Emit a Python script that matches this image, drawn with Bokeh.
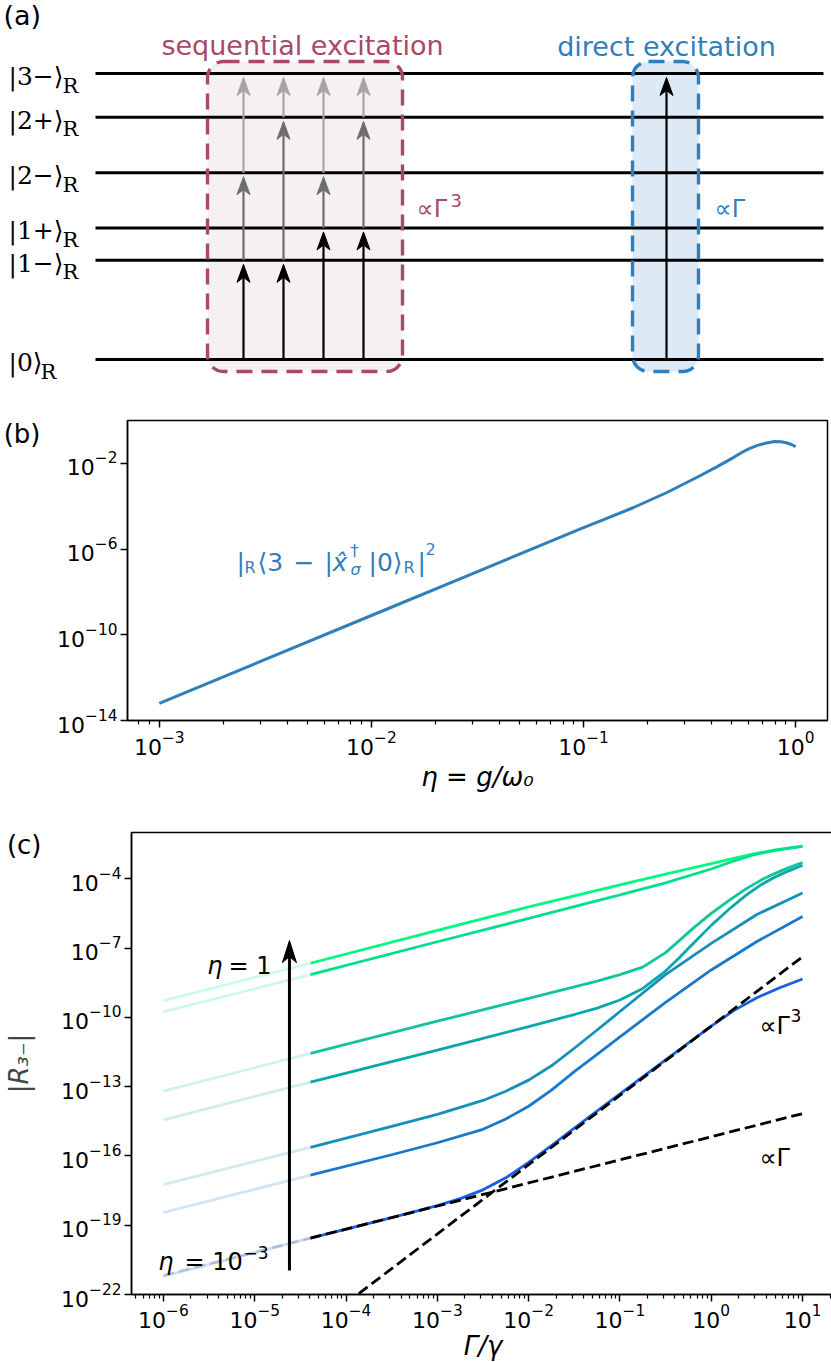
from bokeh.plotting import figure
from bokeh.layouts import column
from bokeh.models import Range1d, FixedTicker, LinearAxis, CustomJSTickFormatter
from bokeh.embed import file_html
from bokeh.resources import INLINE
from bokeh.core.properties import value

FONT = "DejaVu Sans"
SERIF = "DejaVu Serif"

# ---------------- (a) level scheme data ----------------
level_names = ["|0⟩", "|1−⟩", "|1+⟩", "|2−⟩", "|2+⟩", "|3−⟩"]
level_energy = [0.0, 1.04, 1.38, 1.96, 2.54, 3.00]
seq_paths = [[0, 1, 3, 5], [0, 1, 4, 5], [0, 2, 3, 5], [0, 2, 4, 5]]
direct_path = [0, 5]
seq_title = "sequential excitation"
dir_title = "direct excitation"

# ---------------- (b) matrix element vs eta ----------------
b_log_eta = [-3.0, -2.5, -2.0, -1.5, -1.0, -0.92, -0.764, -0.607, -0.451, -0.37, -0.294,
             -0.25, -0.216, -0.18, -0.138, -0.099, -0.07, -0.044, -0.02, 0.0]
b_log_me = [-13.2, -11.15, -9.1, -7.05, -5.0, -4.68, -4.06, -3.36, -2.58, -2.15, -1.73,
            -1.47, -1.30, -1.16, -1.05, -0.98, -0.99, -1.04, -1.12, -1.22]

# ---------------- (c) |R_3-| vs Gamma/gamma ----------------
eta_values = [1.0, 0.5, 0.1, 0.05, 0.01, 0.005, 0.001]
c_log_gamma = [
    [-6.0, -4.39, -3.0, -2.0, -1.0, -0.5, 0.0, 0.2, 0.45, 0.7, 1.0],
    [-6.0, -4.39, -3.0, -2.0, -1.0, -0.5, 0.0, 0.2, 0.45, 0.7, 1.0],
    [-6.0, -4.39, -3.0, -2.0, -1.5, -1.25, -1.0, -0.75, -0.5, -0.35, -0.2, 0.0, 0.2, 0.38,
     0.55, 0.7, 0.85, 1.0],
    [-6.0, -4.39, -3.0, -2.5, -2.0, -1.5, -1.25, -1.0, -0.75, -0.5, -0.35, -0.2, 0.0, 0.2, 0.38,
     0.55, 0.7, 0.85, 1.0],
    [-6.0, -4.39, -3.5, -3.0, -2.5, -2.25, -2.0, -1.75, -1.5, -1.25, -1.0, -0.5, 0.0, 0.5, 1.0],
    [-6.0, -4.39, -3.5, -3.0, -2.5, -2.25, -2.0, -1.75, -1.5, -1.25, -1.0, -0.5, 0.0, 0.5, 1.0],
    [-6.0, -4.39, -3.5, -3.0, -2.75, -2.5, -2.25, -2.0, -1.75, -1.5, -1.0, -0.5, 0.0, 0.25, 0.5,
     0.75, 1.0],
]
c_log_R = [
    [-9.28, -7.66, -6.24, -5.22, -4.27, -3.80, -3.35, -3.16, -2.94, -2.75, -2.59],
    [-9.76, -8.15, -6.73, -5.72, -4.70, -4.18, -3.58, -3.30, -2.98, -2.77, -2.60],
    [-13.20, -11.56, -10.17, -9.18, -8.68, -8.43, -8.15, -7.83, -7.20, -6.68, -6.15, -5.50,
     -4.93, -4.44, -4.05, -3.77, -3.52, -3.30],
    [-14.44, -12.81, -11.42, -10.91, -10.40, -9.88, -9.60, -9.25, -8.75, -8.00, -7.42, -6.82,
     -6.02, -5.30, -4.72, -4.25, -3.93, -3.66, -3.42],
    [-17.24, -15.63, -14.72, -14.20, -13.60, -13.20, -12.72, -12.10, -11.34, -10.55, -9.75,
     -8.15, -6.80, -5.55, -4.62],
    [-18.45, -16.83, -15.95, -15.43, -14.85, -14.40, -13.85, -13.15, -12.35, -11.60, -10.85,
     -9.35, -7.95, -6.72, -5.64],
    [-21.21, -19.56, -18.67, -18.15, -17.85, -17.47, -16.95, -16.28, -15.55, -14.80, -13.32,
     -11.84, -10.38, -9.70, -9.15, -8.72, -8.34],
]
c_colors = ["#00fa80", "#00e08a", "#10c49c", "#0aa8aa", "#1590bb", "#1a78cc", "#1560e0"]
fade_end_log_gamma = -4.39
lin_log_gamma = [-6.0, -4.39, 1.0]
lin_log_R = [-21.17, -19.56, -14.17]
cub_log_gamma = [-4.0, 1.0]
cub_log_R = [-22.38, -7.38]

SEQ_COLOR = "#a8486c"
DIR_COLOR = "#2f7fbd"

# =============== panel (a) ===============
pa = figure(width=829, height=388, x_range=Range1d(0, 829), y_range=Range1d(388, 0),
            x_axis_type=None, y_axis_type=None, min_border=0,
            output_backend="svg", toolbar_location=None)
pa.outline_line_color = None
pa.grid.visible = False

Y0, PX_PER_E = 359.0, 95.33


def ey(e):
    return Y0 - e * PX_PER_E


BOX_SEQ = (207, 402)
BOX_DIR = (632, 698)
BOX_TB = (61, 371)
for (l, r), fc in ((BOX_SEQ, "#f5f1f3"), (BOX_DIR, "#dde9f4")):
    pa.quad(left=[l], right=[r], top=[BOX_TB[0]], bottom=[BOX_TB[1]], fill_color=fc,
            line_color=None, border_radius=16)

ly = [ey(e) for e in level_energy]
pa.segment(x0=[95] * len(ly), y0=ly, x1=[823] * len(ly), y1=ly, line_color="black", line_width=3)

for (l, r), lc in ((BOX_SEQ, SEQ_COLOR), (BOX_DIR, DIR_COLOR)):
    pa.quad(left=[l], right=[r], top=[BOX_TB[0]], bottom=[BOX_TB[1]], fill_color=None,
            line_color=lc, line_width=3.4, line_dash="16 9", border_radius=16)

seg_colors = ["black", "#6d6d6d", "#a5a5a5"]


def draw_arrow(x, y_from, y_tip, color, width=2.2):
    head_len, half_w, notch = 18, 6.5, 13
    pa.segment(x0=[x], y0=[y_from], x1=[x], y1=[y_tip + notch], line_color=color, line_width=width)
    pa.patch([x, x - half_w, x, x + half_w],
             [y_tip, y_tip + head_len, y_tip + notch, y_tip + head_len],
             fill_color=color, line_color=color, line_width=1)


seq_x = [243, 283, 323, 363]
for x, path in zip(seq_x, seq_paths):
    for j, (a, b) in enumerate(zip(path[:-1], path[1:])):
        draw_arrow(x, ey(level_energy[a]), ey(level_energy[b]) + 4, seg_colors[j])
draw_arrow(666, ey(level_energy[direct_path[0]]), ey(level_energy[direct_path[1]]) + 4, "black")

for name, yv in zip(level_names, ly):
    pa.text(x=[8], y=[yv + 3], text=[name], text_font=value(SERIF), text_font_size="25px",
            text_align="left", text_baseline="alphabetic", text_color="black")
    rx = 40 + (22 if len(name) == 4 else 0)
    pa.text(x=[rx], y=[yv + 12], text=["R"], text_font=value(SERIF), text_font_size="21px",
            text_align="left", text_baseline="alphabetic", text_color="black")

pa.text(x=[3], y=[15], text=["(a)"], text_font=value(FONT), text_font_size="27px",
        text_align="left", text_baseline="middle")
pa.text(x=[302], y=[45], text=[seq_title], text_font=value(FONT), text_font_size="27px",
        text_align="center", text_baseline="alphabetic", text_color=SEQ_COLOR)
pa.text(x=[666], y=[46], text=[dir_title], text_font=value(FONT), text_font_size="27px",
        text_align="center", text_baseline="alphabetic", text_color=DIR_COLOR)
pa.text(x=[416], y=[208], text=["∝Γ"], text_font=value(FONT), text_font_size="24px",
        text_align="left", text_baseline="alphabetic", text_color=SEQ_COLOR)
pa.text(x=[450], y=[200], text=["3"], text_font=value(FONT), text_font_size="18px",
        text_align="left", text_baseline="alphabetic", text_color=SEQ_COLOR)
pa.text(x=[714], y=[208], text=["∝Γ"], text_font=value(FONT), text_font_size="24px",
        text_align="left", text_baseline="alphabetic", text_color=DIR_COLOR)


def minor_list(lo, hi):
    return [m * 10.0 ** k for k in range(lo, hi + 1) for m in range(2, 10)]


def style(p):
    for ax in (p.xaxis[0], p.yaxis[0]):
        ax.axis_line_width = 1.5
        ax.major_tick_out = 7
        ax.major_tick_in = 0
        ax.major_tick_line_width = 1.5
        ax.minor_tick_out = 4
        ax.minor_tick_in = 0
        ax.minor_tick_line_width = 1.2
        ax.major_label_text_font = FONT
        ax.major_label_text_font_size = "22px"
        ax.major_label_text_color = "black"
        ax.major_label_standoff = 3
        ax.axis_label_text_font = FONT
        ax.axis_label_text_font_size = "26px"
        ax.axis_label_text_color = "black"
    p.grid.visible = False
    p.outline_line_color = "black"
    p.outline_line_width = 1.5
    p.outline_line_alpha = 1.0


def tag_axis(label, y, standoff):
    return LinearAxis(ticker=FixedTicker(ticks=[y], minor_ticks=[]),
                      formatter=CustomJSTickFormatter(code=f"return '{label}';"),
                      axis_line_color=None, major_tick_line_color=None, minor_tick_line_color=None,
                      major_tick_out=0, major_tick_in=0, minor_tick_out=0,
                      major_label_text_font=FONT, major_label_text_font_size="26px",
                      major_label_text_color="black", major_label_standoff=standoff)


# =============== panel (b) ===============
pb = figure(x_axis_type="log", y_axis_type="log",
            x_range=Range1d(10 ** -3.15, 10 ** 0.15), y_range=Range1d(1e-14, 1.0),
            frame_width=700, frame_height=300, min_border_left=126, min_border_right=3,
            min_border_top=32, min_border_bottom=80,
            output_backend="svg", toolbar_location=None)
style(pb)
pb.xaxis[0].ticker = FixedTicker(ticks=[1e-3, 1e-2, 1e-1, 1.0], minor_ticks=minor_list(-4, 0))
pb.yaxis[0].ticker = FixedTicker(ticks=[1e-14, 1e-10, 1e-6, 1e-2], minor_ticks=[])
pb.xaxis[0].axis_label = "η = g/ω₀"
pb.xaxis[0].axis_label_text_font_style = "italic"
pb.xaxis[0].axis_label_standoff = 4
pb.line([10 ** v for v in b_log_eta], [10 ** v for v in b_log_me], line_color=DIR_COLOR,
        line_width=3)
pb.add_layout(tag_axis("(b)", 10 ** -0.62, 14), "left")

BX, BY = -2.636, -6.613
PXX, PXY = 700 / 3.3, 300 / 14.0
pieces = [
    ("|", 25, 0, 0, "normal"), ("R", 16, 8, 5, "normal"), ("⟨3", 25, 21, 0, "normal"),
    ("−", 25, 57, 0, "normal"), ("|", 25, 88, 0, "normal"), ("x\u0302", 25, 96, 0, "italic"),
    ("†", 16, 114, -12, "normal"), ("σ", 16, 114, 7, "italic"), ("|0⟩", 25, 132, 0, "normal"),
    ("R", 16, 167, 5, "normal"), ("|", 25, 181, 0, "normal"), ("2", 16, 189, -13, "normal"),
]
for txt, size, dx, dy, st in pieces:
    pb.text(x=[10 ** (BX + dx / PXX)], y=[10 ** (BY - dy / PXY)], text=[txt],
            text_font=value(FONT), text_font_size=f"{size}px", text_font_style=st,
            text_color=DIR_COLOR, text_align="left", text_baseline="alphabetic")

# =============== panel (c) ===============
pc = figure(x_axis_type="log", y_axis_type="log",
            x_range=Range1d(10 ** -6.35, 10 ** 1.35), y_range=Range1d(1e-22, 1e-2),
            frame_width=703, frame_height=462, min_border_left=125, min_border_right=1,
            min_border_top=32, min_border_bottom=66,
            output_backend="svg", toolbar_location=None)
style(pc)
pc.xaxis[0].ticker = FixedTicker(ticks=[10.0 ** k for k in range(-6, 2)], minor_ticks=minor_list(-7, 1))
pc.yaxis[0].ticker = FixedTicker(ticks=[10.0 ** k for k in range(-22, -3, 3)], minor_ticks=[])
pc.xaxis[0].axis_label = "Γ/γ"
pc.xaxis[0].axis_label_standoff = 0
pc.xaxis[0].major_label_standoff = 2
tag_c = tag_axis("(c)", 10 ** -2.56, 17)
tag_c.axis_label = "|R₃₋|"
tag_c.axis_label_text_font = FONT
tag_c.axis_label_text_font_size = "26px"
tag_c.axis_label_text_font_style = "italic"
tag_c.axis_label_standoff = -30
pc.add_layout(tag_c, "left")

for lg, lr, col in zip(c_log_gamma, c_log_R, c_colors):
    xs = [10 ** v for v in lg]
    ys = [10 ** v for v in lr]
    k = lg.index(fade_end_log_gamma)
    pc.line(xs[:k + 1], ys[:k + 1], line_color=col, line_width=2.8, line_alpha=0.2)
    pc.line(xs[k:], ys[k:], line_color=col, line_width=2.8)

kl = lin_log_gamma.index(fade_end_log_gamma)
lx = [10 ** v for v in lin_log_gamma]
lyv = [10 ** v for v in lin_log_R]
pc.line(lx[:kl + 1], lyv[:kl + 1], line_color="black", line_width=2.8, line_dash="11 5", line_alpha=0.15)
pc.line(lx[kl:], lyv[kl:], line_color="black", line_width=2.8, line_dash="11 5")
pc.line([10 ** v for v in cub_log_gamma], [10 ** v for v in cub_log_R], line_color="black",
        line_width=2.8, line_dash="11 5")

AX, A0, A1 = -4.62, -20.96, -6.68
HL, HW, HN = 22 / 23.1, 7 / 91.3, 16 / 23.1
pc.segment(x0=[10 ** AX], y0=[10 ** A0], x1=[10 ** AX], y1=[10 ** (A1 - HN)], line_color="black",
           line_width=3)
pc.patch([10 ** AX, 10 ** (AX - HW), 10 ** AX, 10 ** (AX + HW)],
         [10 ** A1, 10 ** (A1 - HL), 10 ** (A1 - HN), 10 ** (A1 - HL)],
         fill_color="black", line_color="black")


def ctext(lx_, ly_, txt, size="24px", align="left", style_="normal"):
    pc.text(x=[10 ** lx_], y=[10 ** ly_], text=[txt], text_font=value(FONT), text_font_size=size,
            text_font_style=style_, text_align=align, text_baseline="alphabetic")


ctext(-5.353, -7.76, "η", align="right", style_="italic")
ctext(-5.288, -7.76, "= 1")
ctext(-5.89, -20.6, "η", align="right", style_="italic")
ctext(-5.77, -20.6, "= 10")
ctext(-5.77 + 59 / 91.3, -20.6 + 10 / 23.1, "−3", size="17px")
ctext(0.528, -10.355, "∝Γ")
ctext(0.528 + 31 / 91.3, -10.355 + 10 / 23.1, "3", size="17px")
ctext(0.528, -16.11, "∝Γ")

for f in (pa, pb, pc):
    if "frame_align" in f.properties():
        f.frame_align = False

if "frame_align" in pa.properties():
    out = column(pa, pb, pc, spacing=0)
    open("out.html", "w").write(file_html(out, INLINE))
else:
    open("out.html", "w").write(file_html([pa, pb, pc], INLINE))
